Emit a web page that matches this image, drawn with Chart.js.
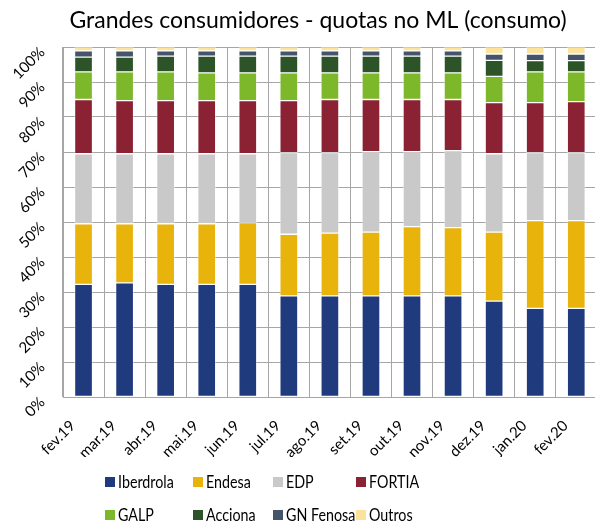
<!DOCTYPE html>
<html>
<head>
<meta charset="utf-8">
<script src="https://cdn.jsdelivr.net/npm/chart.js@4.4.1/dist/chart.umd.min.js"></script>
<style>
  html, body { margin: 0; padding: 0; background: #ffffff; overflow: hidden; }
  #wrap { position: relative; width: 598px; height: 522px; }
</style>
</head>
<body>
<div id="wrap"><canvas id="c"></canvas></div>
<script>
const chartTitle = 'Grandes consumidores - quotas no ML (consumo)';
const categories = ['fev.19','mar.19','abr.19','mai.19','jun.19','jul.19','ago.19','set.19','out.19','nov.19','dez.19','jan.20','fev.20'];
const seriesNames = ['Iberdrola','Endesa','EDP','FORTIA','GALP','Acciona','GN Fenosa','Outros'];
const iberdrola = [32.2, 32.6, 32.2, 32.2, 32.2, 28.9, 28.9, 28.9, 28.9, 28.9, 27.4, 25.3, 25.3];
const endesa    = [17.3, 16.9, 17.3, 17.3, 17.6, 17.6, 17.9, 18.2, 19.8, 19.5, 19.7, 25.1, 25.1];
const edp       = [20.0, 20.0, 20.0, 20.0, 19.7, 23.3, 23.0, 23.0, 21.4, 22.0, 22.4, 19.4, 19.4];
const fortia    = [15.5, 15.2, 15.2, 15.2, 15.2, 14.9, 15.2, 14.9, 14.9, 14.6, 14.6, 14.3, 14.6];
const galp      = [7.9, 8.2, 8.2, 7.9, 7.9, 7.9, 7.6, 7.6, 7.6, 7.6, 7.5, 8.8, 8.5];
const acciona   = [4.2, 4.2, 4.5, 4.8, 4.8, 4.8, 4.8, 4.8, 4.8, 4.8, 4.6, 3.2, 3.2];
const gnFenosa  = [1.8, 1.8, 1.5, 1.5, 1.5, 1.5, 1.5, 1.5, 1.5, 1.5, 1.8, 1.9, 1.9];
const outros    = [1.1, 1.1, 1.1, 1.1, 1.1, 1.1, 1.1, 1.1, 1.1, 1.1, 2.0, 2.0, 2.0];
const yTickLabels = ['0%','10%','20%','30%','40%','50%','60%','70%','80%','90%','100%'];

const seriesValues = [iberdrola, endesa, edp, fortia, galp, acciona, gnFenosa, outros];
const seriesColors = ['#203a7e', '#e8b30b', '#c9c9c9', '#8b2234', '#7db82a', '#2c5428', '#44546a', '#fbe39b'];

const FONT = 'Lato, "Open Sans", sans-serif';

const datasets = seriesNames.map((name, i) => ({
  label: name,
  data: seriesValues[i],
  backgroundColor: seriesColors[i],
  borderColor: 'rgba(255,255,255,0.35)',
  borderWidth: 1,
  barThickness: 18,
  borderSkipped: false
}));

const decorPlugin = {
  id: 'decor',
  afterDraw(chart) {
    const ctx = chart.ctx;
    ctx.save();
    ctx.fillStyle = '#000000';
    ctx.font = '23px ' + FONT;
    ctx.textAlign = 'center';
    ctx.textBaseline = 'middle';
    ctx.fillText(chartTitle, 318, 21);
    const colX = [105, 193, 273, 356];
    const rowY = [482, 515];
    ctx.textAlign = 'left';
    chart.data.datasets.forEach((ds, i) => {
      const x = colX[i % 4];
      const y = rowY[Math.floor(i / 4)];
      ctx.fillStyle = ds.backgroundColor;
      ctx.fillRect(x, y - 5, 10, 10);
      ctx.save();
      ctx.translate(x + 13, y + 1);
      ctx.scale(0.84, 1);
      ctx.font = '17px ' + FONT;
      ctx.fillStyle = '#000000';
      ctx.fillText(ds.label, 0, 0);
      ctx.restore();
    });
    ctx.restore();
  }
};

new Chart(document.getElementById('c'), {
  type: 'bar',
  data: { labels: categories, datasets },
  options: {
    responsive: true,
    maintainAspectRatio: false,
    animation: false,
    layout: { padding: { top: 47, right: 0, bottom: 65, left: 0 } },
    plugins: {
      legend: { display: false },
      title: { display: false },
      tooltip: { enabled: false }
    },
    scales: {
      x: {
        stacked: true,
        grid: { color: '#a6a6a6', lineWidth: 1, drawTicks: false, offset: true },
        border: { color: '#a6a6a6', width: 1 },
        ticks: {
          color: '#000000',
          font: { family: FONT, size: 15 },
          minRotation: 45,
          maxRotation: 45,
          padding: 9,
          autoSkip: false,
          callback: (v, i) => categories[i] + '    '
        },
        afterFit(scale) { scale.height = 60; }
      },
      y: {
        stacked: true,
        min: 0,
        max: 100,
        grid: { color: '#a6a6a6', lineWidth: 1, drawTicks: false },
        border: { color: '#a6a6a6', width: 1 },
        ticks: {
          stepSize: 10,
          color: '#000000',
          font: { family: FONT, size: 15 },
          minRotation: 45,
          maxRotation: 45,
          padding: 18,
          callback: (v, i) => yTickLabels[i] + ' '
        },
        afterFit(scale) { scale.width = 63; }
      }
    }
  },
  plugins: [decorPlugin]
});
</script>
</body>
</html>
